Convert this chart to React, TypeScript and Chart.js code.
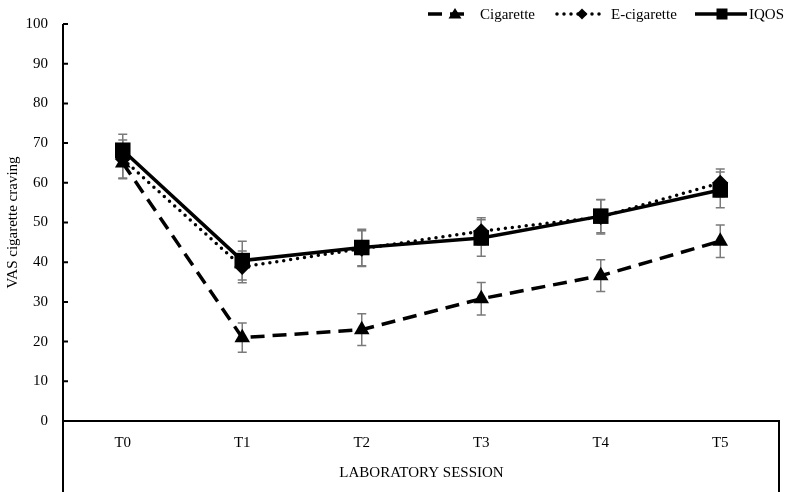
import React, { useEffect, useRef } from 'react';
import { Chart, registerables } from 'chart.js';
Chart.register(...registerables);

const sessions = ['T0', 'T1', 'T2', 'T3', 'T4', 'T5'];
const cigarette = [65.0, 21.0, 23.0, 30.8, 36.6, 45.3];
const cigaretteErr = [4.0, 3.7, 4.0, 4.1, 4.0, 4.1];
const eCigarette = [66.0, 38.8, 43.4, 47.8, 51.4, 60.0];
const eCigaretteErr = [4.8, 4.0, 4.5, 3.4, 4.3, 3.5];
const iqos = [68.2, 40.4, 43.7, 46.1, 51.6, 58.2];
const iqosErr = [4.0, 4.9, 4.6, 4.6, 4.2, 4.5];
const seriesNames = ['Cigarette', 'E-cigarette', 'IQOS'];
const yMin = 0;
const yMax = 100;
const yStep = 10;

const FONT = "'Liberation Serif', 'Times New Roman', serif";

// legend layout (sample start, sample end, marker x, text x)
const legendSampleStart = [428, 557, 695];
const legendSampleEnd = [468, 602, 747];
const legendMarkerX = [455, 582, 722];
const legendTextX = [480, 611, 749];

const errorBarsPlugin = {
  id: 'errorBars',
  beforeDatasetsDraw(chart: any) {
    const ctx = chart.ctx;
    const y = chart.scales.y;
    ctx.save();
    ctx.strokeStyle = '#7a7a7a';
    ctx.lineWidth = 1.5;
    chart.data.datasets.forEach((ds: any, di: number) => {
      const meta = chart.getDatasetMeta(di);
      ds.data.forEach((v: number, i: number) => {
        const e = ds.errors[i];
        const px = meta.data[i].x;
        const top = y.getPixelForValue(v + e);
        const bot = y.getPixelForValue(v - e);
        ctx.beginPath();
        ctx.moveTo(px, top);
        ctx.lineTo(px, bot);
        ctx.moveTo(px - 4.5, top);
        ctx.lineTo(px + 4.5, top);
        ctx.moveTo(px - 4.5, bot);
        ctx.lineTo(px + 4.5, bot);
        ctx.stroke();
      });
    });
    ctx.restore();
  },
};

function drawMarker(ctx: CanvasRenderingContext2D, style: string, x: number, y: number) {
  ctx.beginPath();
  if (style === 'triangle') {
    ctx.moveTo(x, y - 6);
    ctx.lineTo(x + 6.5, y + 4.5);
    ctx.lineTo(x - 6.5, y + 4.5);
    ctx.closePath();
  } else if (style === 'rectRot') {
    ctx.moveTo(x, y - 5.5);
    ctx.lineTo(x + 5.5, y);
    ctx.lineTo(x, y + 5.5);
    ctx.lineTo(x - 5.5, y);
    ctx.closePath();
  } else {
    ctx.rect(x - 5.5, y - 5.5, 11, 11);
  }
  ctx.fill();
}

const framePlugin = {
  id: 'frame',
  afterDraw(chart: any) {
    const ctx = chart.ctx;
    const { left, right, bottom } = chart.chartArea;
    const y = chart.scales.y;
    const H = chart.height;
    ctx.save();
    ctx.strokeStyle = '#000';
    ctx.lineWidth = 2;
    ctx.beginPath();
    ctx.moveTo(left, y.getPixelForValue(yMax));
    ctx.lineTo(left, H);
    ctx.moveTo(left, bottom);
    ctx.lineTo(right, bottom);
    ctx.moveTo(right - 1, bottom);
    ctx.lineTo(right - 1, H);
    for (let v = yMin; v <= yMax; v += yStep) {
      const py = y.getPixelForValue(v);
      ctx.moveTo(left, py);
      ctx.lineTo(left + 5, py);
    }
    ctx.stroke();

    // legend
    ctx.font = `15px ${FONT}`;
    ctx.textBaseline = 'middle';
    ctx.fillStyle = '#000';
    const ly = 14;
    chart.data.datasets.forEach((ds: any, i: number) => {
      ctx.save();
      ctx.strokeStyle = '#000';
      ctx.lineWidth = 3.5;
      ctx.setLineDash(ds.borderDash || []);
      ctx.lineCap = ds.borderCapStyle || 'butt';
      ctx.beginPath();
      ctx.moveTo(legendSampleStart[i], ly);
      ctx.lineTo(legendSampleEnd[i], ly);
      ctx.stroke();
      ctx.restore();
      drawMarker(ctx, ds.pointStyle, legendMarkerX[i], ly);
      ctx.fillText(seriesNames[i], legendTextX[i], ly + 1);
    });
    ctx.restore();
  },
};

export default function App() {
  const ref = useRef<HTMLCanvasElement>(null);
  useEffect(() => {
    const chart = new Chart(ref.current!, {
      type: 'line',
      data: {
        labels: sessions,
        datasets: [
          {
            label: seriesNames[0],
            data: cigarette,
            errors: cigaretteErr,
            borderColor: '#000',
            backgroundColor: '#000',
            borderWidth: 3.5,
            borderDash: [14, 8],
            pointStyle: 'triangle',
            pointRadius: 9,
            pointBorderWidth: 0,
            order: 2,
          } as any,
          {
            label: seriesNames[1],
            data: eCigarette,
            errors: eCigaretteErr,
            borderColor: '#000',
            backgroundColor: '#000',
            borderWidth: 3.5,
            borderDash: [0, 7],
            borderCapStyle: 'round',
            pointStyle: 'rectRot',
            pointRadius: 8,
            pointBorderWidth: 0,
            order: 1,
          } as any,
          {
            label: seriesNames[2],
            data: iqos,
            errors: iqosErr,
            borderColor: '#000',
            backgroundColor: '#000',
            borderWidth: 3.5,
            pointStyle: 'rect',
            pointRadius: 11,
            pointBorderWidth: 0,
            order: 0,
          } as any,
        ],
      },
      options: {
        responsive: false,
        animation: false,
        layout: { padding: { top: 22, right: 10, left: 0, bottom: 0 } },
        font: { family: FONT, size: 15 },
        plugins: { legend: { display: false }, tooltip: { enabled: false } },
        scales: {
          x: {
            type: 'category',
            offset: true,
            grid: { display: false, drawTicks: false },
            border: { display: false },
            ticks: { padding: 13, color: '#000', font: { family: FONT, size: 15 } },
            title: {
              display: true,
              text: 'LABORATORY SESSION',
              color: '#000',
              font: { family: FONT, size: 15 },
              padding: { top: 0, bottom: 10 },
            },
            afterFit(s: any) {
              s.height = 71;
            },
          },
          y: {
            min: yMin,
            max: yMax,
            grid: { display: false, drawTicks: false },
            border: { display: false },
            ticks: { stepSize: yStep, padding: 15, color: '#000', font: { family: FONT, size: 15 } },
            title: {
              display: true,
              text: 'VAS cigarette craving',
              color: '#000',
              font: { family: FONT, size: 15 },
              padding: { top: 4, bottom: 0 },
            },
            afterFit(s: any) {
              s.width = 63;
            },
          },
        },
      } as any,
      plugins: [errorBarsPlugin, framePlugin],
    });
    return () => chart.destroy();
  }, []);
  return (
    <div style={{ position: 'fixed', left: 0, top: 0, width: 791, height: 492, background: '#fff' }}>
      <canvas ref={ref} width={791} height={492} style={{ display: 'block' }} />
    </div>
  );
}
